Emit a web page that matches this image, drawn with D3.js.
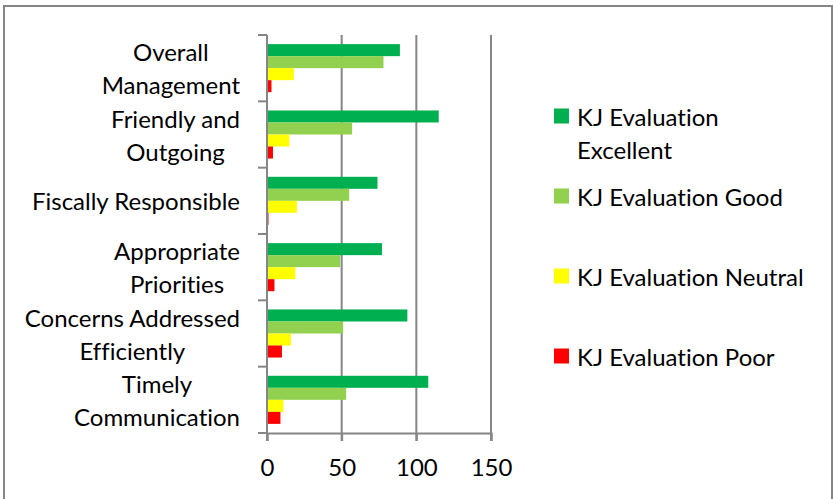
<!DOCTYPE html>
<html>
<head>
<meta charset="utf-8">
<script src="https://cdn.jsdelivr.net/npm/d3@7"></script>
<style>
  html, body { margin: 0; padding: 0; background: #fff; }
  svg text { font-family: Lato, "Open Sans", sans-serif; fill: #000; font-variant-ligatures: none; font-feature-settings: "liga" 0; }
</style>
</head>
<body>
<svg id="chart" width="833" height="499"></svg>
<script>
// Data
const categories = [
  ["Overall", "Management"],
  ["Friendly and", "Outgoing"],
  ["Fiscally Responsible"],
  ["Appropriate", "Priorities"],
  ["Concerns Addressed", "Efficiently"],
  ["Timely", "Communication"]
];
const seriesNames = ["KJ Evaluation Excellent", "KJ Evaluation Good", "KJ Evaluation Neutral", "KJ Evaluation Poor"];
const excellent = [89, 115, 74, 77, 94, 108];
const good = [78, 57, 55, 49, 51, 53];
const neutral = [18, 15, 20, 19, 16, 11];
const poor = [3, 4, 1, 5, 10, 9];
const xTicks = [0, 50, 100, 150];
const colors = ["#00B050", "#92D050", "#FFFF00", "#FF0000"];

const seriesValues = [excellent, good, neutral, poor];
const catKeys = categories.map(c => c.join(" "));

const svg = d3.select("#chart");
const grey = "#868686";
const fontSize = 24;

// outer frame
svg.append("rect")
  .attr("x", 4).attr("y", 6)
  .attr("width", 828).attr("height", 500)
  .attr("fill", "#fff")
  .attr("stroke", grey)
  .attr("stroke-width", 2);

// Scales
const x = d3.scaleLinear().domain([0, 150]).range([267, 491]);
const y = d3.scaleBand().domain(catKeys).range([35, 433]);
const ySub = d3.scaleBand().domain(seriesNames).range([0, y.bandwidth()]).paddingOuter(0.76);

// gridlines (with tick stubs below the axis)
svg.append("g")
  .selectAll("line")
  .data(xTicks.slice(1))
  .join("line")
  .attr("x1", d => x(d)).attr("x2", d => x(d))
  .attr("y1", 35).attr("y2", 441)
  .attr("stroke", grey)
  .attr("stroke-width", 2);

// bars
const groups = svg.append("g")
  .selectAll("g")
  .data(seriesNames)
  .join("g")
  .attr("fill", (d, i) => colors[i]);

groups.selectAll("rect")
  .data((s, i) => seriesValues[i].map((v, j) => ({ s, v, cat: catKeys[j] })))
  .join("rect")
  .attr("x", x(0))
  .attr("y", d => y(d.cat) + ySub(d.s))
  .attr("width", d => x(d.v) - x(0))
  .attr("height", ySub.bandwidth());

// axes
const xAxis = svg.append("g")
  .attr("transform", `translate(0,433)`)
  .call(d3.axisBottom(x).tickValues(xTicks).tickSize(8).tickPadding(18));
xAxis.select(".domain").attr("stroke", grey).attr("stroke-width", 2);
xAxis.selectAll(".tick line").attr("stroke", grey).attr("stroke-width", 2);
xAxis.selectAll(".tick text")
  .style("font-family", "Lato, 'Open Sans', sans-serif")
  .attr("font-size", fontSize);

const yTickPos = d3.range(catKeys.length + 1).map(i => y.range()[0] + i * y.step());
const yAxis = svg.append("g");
yAxis.append("line")
  .attr("x1", x(0)).attr("x2", x(0))
  .attr("y1", 35).attr("y2", 441)
  .attr("stroke", grey).attr("stroke-width", 2);
yAxis.selectAll(".ytick")
  .data(yTickPos)
  .join("line")
  .attr("class", "ytick")
  .attr("x1", x(0) - 9).attr("x2", x(0))
  .attr("y1", d => d).attr("y2", d => d)
  .attr("stroke", grey).attr("stroke-width", 2);

// category labels: lines centred within a block right-aligned at 240
const lineGap = 33;
categories.forEach((lines, j) => {
  const cy = y(catKeys[j]) + y.bandwidth() / 2;
  const t = svg.append("g");
  const texts = lines.map((ln, k) => t.append("text")
    .attr("font-size", fontSize)
    .attr("text-anchor", "middle")
    .attr("dominant-baseline", "central")
    .attr("y", cy + (k - (lines.length - 1) / 2) * lineGap)
    .text(ln));
  const maxW = d3.max(texts, tx => tx.node().getComputedTextLength());
  texts.forEach(tx => tx.attr("x", 240 - maxW / 2));
});

// legend
const legendLines = [["KJ Evaluation", "Excellent"], ["KJ Evaluation Good"], ["KJ Evaluation Neutral"], ["KJ Evaluation Poor"]];
const legendY = [116, 196, 276, 356];
const legend = svg.append("g");
legendLines.forEach((lines, i) => {
  legend.append("rect")
    .attr("x", 554).attr("y", legendY[i] - 7.5)
    .attr("width", 15).attr("height", 15)
    .attr("fill", colors[i]);
  lines.forEach((ln, k) => {
    legend.append("text")
      .attr("x", 577)
      .attr("y", legendY[i] + k * lineGap)
      .attr("dominant-baseline", "central")
      .attr("font-size", fontSize)
      .text(ln);
  });
});
</script>
</body>
</html>
